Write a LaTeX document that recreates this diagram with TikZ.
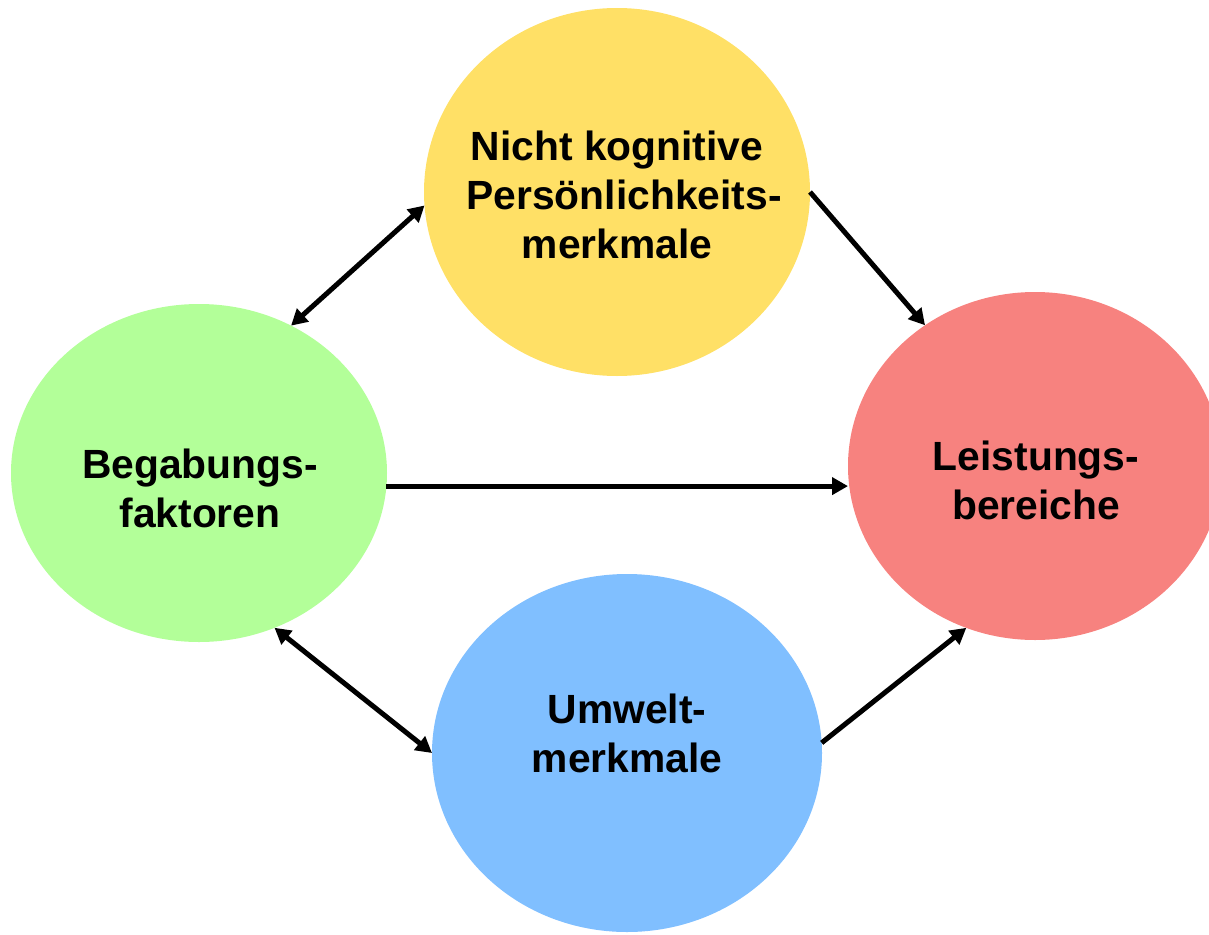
\documentclass[tikz,border=0pt]{standalone}
\usepackage{fontspec}
\setmainfont{Liberation Sans}
\usetikzlibrary{shapes.geometric,arrows.meta}
\definecolor{cyellow}{HTML}{FFE066}
\definecolor{cgreen}{HTML}{B3FF99}
\definecolor{cred}{HTML}{F7827F}
\definecolor{cblue}{HTML}{80BFFF}
\begin{document}
\begin{tikzpicture}[x=1pt,y=-1pt,
  blob/.style={ellipse,draw=none,inner sep=0pt,outer sep=0pt},
  txt/.style={align=center,font=\bfseries\fontsize{40.8}{49}\selectfont,inner sep=0pt},
  conn/.style={line width=5pt,-{Triangle[length=16pt,width=17pt]}},
  dconn/.style={line width=5pt,{Triangle[length=16pt,width=17pt]}-{Triangle[length=16pt,width=17pt]}}]
\useasboundingbox (0,0) rectangle (1209,934);
\node[blob,fill=cyellow,minimum width=386pt,minimum height=368pt] (Y) at (617,192) {};
\node[blob,fill=cgreen,minimum width=376pt,minimum height=338pt] (G) at (199,473) {};
\node[blob,fill=cred,minimum width=374pt,minimum height=348pt] (R) at (1035,466) {};
\node[blob,fill=cblue,minimum width=390pt,minimum height=358pt] (B) at (627,753) {};
\node[txt] (Yt) at (617,195) {Nicht kognitive\\\hspace*{14pt}Persönlichkeits-\\merkmale};
\node[txt] (Gt) at (200,488) {Begabungs-\\faktoren};
\node[txt] (Rt) at (1036,480) {Leistungs-\\bereiche};
\node[txt] (Bt) at (627,733) {Umwelt-\\merkmale};
\draw[dconn] (G.58) -- (Y.184);
\draw[conn] (Y.0) -- (R.128);
\draw[conn] (G.-4) -- (G.-4 -| R.west);
\draw[dconn] (G.-64) -- (B.west);
\draw[conn] (B.3.5) -- (R.247);
\end{tikzpicture}
\end{document}
